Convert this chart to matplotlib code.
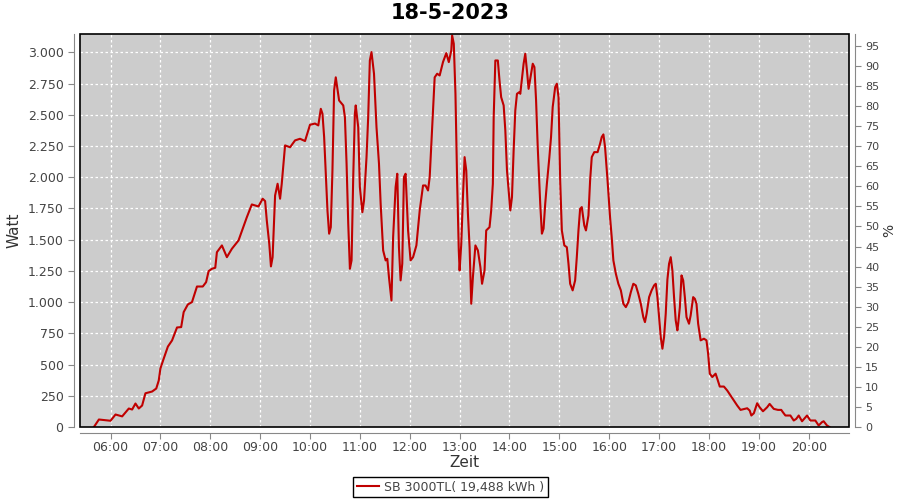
import matplotlib

matplotlib.use("Agg")
import matplotlib.pyplot as plt
import matplotlib.dates as mdates
import pandas as pd
from matplotlib.patches import Rectangle
from matplotlib.ticker import FuncFormatter, MultipleLocator

DAY = "2023-05-18"
TITLE = "18-5-2023"
SERIES_LABEL = "SB 3000TL( 19,488 kWh )"

# Readings (time of day, watt).
times = [
    "05:40", "05:46", "06:00", "06:06", "06:14", "06:22", "06:26", "06:30", "06:34", "06:38",
    "06:42", "06:50", "06:55", "06:58", "07:00", "07:04", "07:09", "07:14", "07:20", "07:25",
    "07:28", "07:33", "07:38", "07:44", "07:51", "07:55", "07:58", "08:02", "08:06", "08:08",
    "08:14", "08:20", "08:26", "08:34", "08:39", "08:44", "08:50", "08:58", "09:03", "09:06",
    "09:08", "09:11", "09:13", "09:15", "09:18", "09:21", "09:24", "09:26", "09:30", "09:36",
    "09:42", "09:48", "09:54", "10:00", "10:06", "10:10", "10:13", "10:15", "10:17", "10:19",
    "10:21", "10:23", "10:25", "10:27", "10:29", "10:31", "10:35", "10:40", "10:42", "10:44",
    "10:46", "10:48", "10:50", "10:52", "10:54", "10:55", "10:58", "11:00", "11:03", "11:05",
    "11:08", "11:10", "11:12", "11:14", "11:17", "11:20", "11:23", "11:25", "11:28", "11:31",
    "11:33", "11:35", "11:38", "11:40", "11:43", "11:45", "11:47", "11:49", "11:51", "11:53",
    "11:55", "11:58", "12:01", "12:04", "12:08", "12:12", "12:16", "12:19", "12:22", "12:24",
    "12:27", "12:30", "12:33", "12:36", "12:40", "12:44", "12:47", "12:50", "12:51", "12:53",
    "12:55", "12:57", "12:59", "13:00", "13:02", "13:04", "13:06", "13:08", "13:10", "13:12",
    "13:14", "13:16", "13:19", "13:22", "13:25", "13:27", "13:30", "13:32", "13:36", "13:38",
    "13:40", "13:41", "13:43", "13:46", "13:48", "13:50", "13:53", "13:55", "13:57", "13:59",
    "14:01", "14:03", "14:05", "14:07", "14:09", "14:12", "14:13", "14:15", "14:17", "14:19",
    "14:21", "14:23", "14:25", "14:28", "14:30", "14:32", "14:34", "14:37", "14:39", "14:41",
    "14:43", "14:45", "14:48", "14:50", "14:52", "14:55", "14:57", "14:59", "15:01", "15:03",
    "15:06", "15:09", "15:11", "15:13", "15:16", "15:19", "15:21", "15:23", "15:25", "15:27",
    "15:30", "15:32", "15:35", "15:37", "15:39", "15:42", "15:46", "15:49", "15:51", "15:53",
    "15:55", "15:58", "16:01", "16:03", "16:05", "16:08", "16:11", "16:14", "16:17", "16:20",
    "16:23", "16:26", "16:29", "16:32", "16:35", "16:38", "16:41", "16:43", "16:45", "16:48",
    "16:51", "16:54", "16:56", "16:58", "17:00", "17:02", "17:04", "17:06", "17:08", "17:10",
    "17:12", "17:14", "17:16", "17:18", "17:20", "17:22", "17:23", "17:25", "17:27", "17:29",
    "17:31", "17:33", "17:36", "17:38", "17:41", "17:43", "17:45", "17:47", "17:50", "17:54",
    "17:57", "17:59", "18:01", "18:04", "18:08", "18:10", "18:13", "18:18", "18:22", "18:26",
    "18:30", "18:34", "18:38", "18:43", "18:46", "18:49", "18:51", "18:54", "18:57", "18:58",
    "19:01", "19:05", "19:10", "19:13", "19:18", "19:23", "19:27", "19:29", "19:32", "19:38",
    "19:42", "19:45", "19:48", "19:52", "19:58", "20:02", "20:08", "20:12", "20:16", "20:18",
    "20:22", "20:25",
]
watt = [
    0, 60, 50, 100, 85, 148, 140, 188, 148, 172,
    270, 284, 308, 372, 468, 548, 644, 693, 797, 800,
    920, 981, 1000, 1125, 1125, 1160, 1248, 1267, 1275, 1400,
    1454, 1360, 1427, 1494, 1588, 1680, 1782, 1766, 1828, 1809,
    1654, 1467, 1286, 1360, 1854, 1948, 1828, 1948, 2255, 2240,
    2295, 2308, 2290, 2420, 2430, 2415, 2548, 2508, 2322, 2028,
    1734, 1548, 1600, 2054, 2695, 2800, 2615, 2575, 2481, 2108,
    1628, 1267, 1334, 2001, 2508, 2575, 2401, 1921, 1720, 1814,
    2161, 2481, 2935, 3002, 2829, 2401, 2108, 1788, 1414, 1334,
    1347, 1200, 1013, 1520, 1921, 2028, 1440, 1174, 1307, 2001,
    2028, 1574, 1334, 1360, 1454, 1734, 1934, 1934, 1894, 2001,
    2401, 2800, 2829, 2815, 2922, 2994, 2922, 3016, 3136, 3069,
    2668, 1974, 1414, 1254, 1467, 1841, 2161, 2054, 1708, 1440,
    987, 1200, 1454, 1414, 1280, 1147, 1254, 1574, 1600, 1734,
    1948, 2481, 2935, 2935, 2775, 2641, 2575, 2375, 2054, 1894,
    1734, 1841, 2214, 2535, 2668, 2682, 2668, 2789, 2909, 2989,
    2855, 2708, 2789, 2909, 2882, 2615, 2241, 1788, 1548, 1588,
    1788, 1948, 2161, 2322, 2562, 2722, 2749, 2641, 1974, 1574,
    1454, 1440, 1307, 1147, 1094, 1174, 1360, 1574, 1747, 1761,
    1614, 1574, 1694, 1974, 2161, 2201, 2201, 2268, 2322, 2343,
    2241, 1974, 1681, 1520, 1334, 1227, 1147, 1094, 987, 960,
    1000, 1080, 1147, 1134, 1067, 987, 880, 840, 907, 1040,
    1094, 1134, 1147, 1040, 880, 720, 627, 720, 907, 1180,
    1307, 1360, 1254, 1040, 854, 774, 827, 960, 1214, 1174,
    1040, 880, 827, 894, 1040, 1027, 987, 827, 694, 707,
    694, 587, 427, 400, 427, 387, 324, 324, 292, 252,
    212, 172, 137, 145, 150, 132, 92, 110, 172, 190,
    158, 126, 158, 185, 145, 137, 137, 118, 92, 92,
    52, 65, 92, 46, 92, 52, 52, 12, 39, 46,
    12, 0,
]

LINE_C = "#c00000"
PLOT_BG = "#cccccc"
AXIS_C = "#888888"
TICK_TXT = "#444444"

plt.rcParams.update({"font.family": "DejaVu Sans"})

t = pd.to_datetime([f"{DAY} {s}" for s in times])

fig = plt.figure(figsize=(9, 5), dpi=100)
ax = fig.add_axes([79.5 / 900, 1 - 427 / 500, (849 - 79.5) / 900, (427 - 34) / 500])
ax.set_facecolor(PLOT_BG)

ax.plot(t, watt, color=LINE_C, lw=1.5, label=SERIES_LABEL, zorder=3)

ax.set_xlim(pd.Timestamp(f"{DAY} 05:22:40"), pd.Timestamp(f"{DAY} 20:48:30"))
ax.set_ylim(0, 3147)
ax.xaxis.set_major_locator(mdates.HourLocator())
ax.xaxis.set_major_formatter(mdates.DateFormatter("%H:%M"))
ax.yaxis.set_major_locator(MultipleLocator(250))
ax.yaxis.set_major_formatter(FuncFormatter(lambda v, p: f"{int(v):,}".replace(",", ".")))
ax.grid(True, color="white", ls=(0, (2, 2)), lw=0.9)
ax.set_axisbelow(True)

for side in ("top", "right"):
    ax.spines[side].set_visible(False)
for side in ("left", "bottom"):
    ax.spines[side].set_position(("outward", 4))
    ax.spines[side].set_color(AXIS_C)
ax.tick_params(colors=AXIS_C, labelcolor=TICK_TXT, labelsize=9, length=4, direction="out")
ax.tick_params(axis="x", pad=2)
ax.add_patch(Rectangle((0, 0), 1, 1, transform=ax.transAxes, fill=False,
                       ec="black", lw=1.2, clip_on=False, zorder=5))

ax.set_ylabel("Watt", fontsize=11, color="#333333")
ax.yaxis.set_label_coords(-0.076, 0.5)
ax.set_xlabel("Zeit", fontsize=11, color="#333333", labelpad=1)

# Secondary percentage axis (no series drawn on it).
ax2 = ax.twinx()
ax2.set_ylim(0, 98)
ax2.yaxis.set_major_locator(MultipleLocator(5))
for side in ("top", "left", "bottom"):
    ax2.spines[side].set_visible(False)
ax2.spines["right"].set_position(("outward", 4))
ax2.spines["right"].set_color(AXIS_C)
ax2.tick_params(colors=AXIS_C, labelcolor=TICK_TXT, labelsize=8, length=4, direction="out")
ax2.set_ylabel("%", fontsize=10, color="#333333")
ax2.yaxis.set_label_coords(1.043, 0.5)

fig.text(0.5, 1 - 13 / 500, TITLE, ha="center", va="center", fontsize=15, weight="bold")

leg = fig.legend(loc="center", bbox_to_anchor=(450.5 / 900, 1 - 487 / 500), fontsize=9,
                 frameon=True, fancybox=False, edgecolor="black", framealpha=1,
                 handlelength=1.8, borderpad=0.3, handletextpad=0.4)
leg.get_frame().set_linewidth(1.0)
for txt in leg.get_texts():
    txt.set_color(TICK_TXT)

fig.savefig("out.png", dpi=100)
